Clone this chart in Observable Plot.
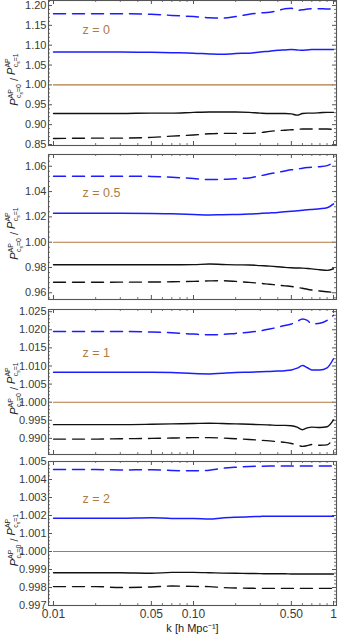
<!DOCTYPE html>
<html><head><meta charset="utf-8">
<script src="https://cdn.jsdelivr.net/npm/d3@7"></script>
<script src="https://cdn.jsdelivr.net/npm/@observablehq/plot@0.6"></script>
<style>
body{margin:0;background:#fff;}
#chart{position:relative;width:339px;height:636px;overflow:hidden;background:#fff;}
#chart svg{position:absolute;left:0;}
</style></head><body><div id="chart"></div>
<script>
// ---- data ----
const k = [0.01,0.02,0.03,0.05,0.07,0.1,0.13,0.16,0.2,0.25,0.3,0.35,0.4,0.45,0.5,0.55,0.6,0.65,0.7,0.8,0.9,1.0];

const z0_blueDash  = [1.179,1.179,1.179,1.178,1.175,1.172,1.169,1.168,1.172,1.178,1.181,1.183,1.187,1.192,1.193,1.188,1.189,1.191,1.192,1.192,1.191,1.192];
const z0_blueSolid = [1.083,1.083,1.083,1.082,1.081,1.080,1.078,1.077,1.079,1.080,1.083,1.085,1.087,1.088,1.089,1.088,1.087,1.088,1.089,1.089,1.089,1.089];
const z0_blackSolid= [0.928,0.928,0.928,0.929,0.929,0.931,0.932,0.932,0.932,0.931,0.929,0.928,0.928,0.928,0.927,0.924,0.928,0.929,0.929,0.930,0.931,0.931];
const z0_blackDash = [0.865,0.866,0.866,0.868,0.871,0.874,0.877,0.878,0.878,0.878,0.880,0.883,0.885,0.886,0.887,0.888,0.889,0.889,0.889,0.889,0.889,0.888];

const z05_blueDash  = [1.0521,1.0521,1.0521,1.0520,1.0513,1.0503,1.0495,1.0496,1.0502,1.0508,1.0525,1.0540,1.0552,1.0563,1.0572,1.0578,1.0585,1.0590,1.0593,1.0597,1.0605,1.0632];
const z05_blueSolid = [1.0228,1.0228,1.0228,1.0227,1.0224,1.0219,1.0215,1.0217,1.0219,1.0222,1.0227,1.0231,1.0235,1.0240,1.0244,1.0248,1.0252,1.0256,1.0259,1.0264,1.0272,1.0303];
const z05_blackSolid= [0.9822,0.9822,0.9822,0.9822,0.9822,0.9823,0.9827,0.9824,0.9821,0.9820,0.9815,0.9811,0.9806,0.9801,0.9798,0.9796,0.9795,0.9792,0.9789,0.9782,0.9777,0.9790];
const z05_blackDash = [0.9683,0.9683,0.9684,0.9685,0.9687,0.9690,0.9694,0.9695,0.9690,0.9682,0.9675,0.9667,0.9661,0.9655,0.9650,0.9643,0.9636,0.9628,0.9622,0.9614,0.9608,0.9603];

const z1_blueDash  = [1.0195,1.0195,1.0195,1.0194,1.0192,1.0188,1.0186,1.0187,1.0190,1.0193,1.0197,1.0202,1.0207,1.0212,1.0216,1.0223,1.0230,1.0226,1.0216,1.0218,1.0226,1.0240];
const z1_blueSolid = [1.0083,1.0083,1.0083,1.0083,1.0082,1.0079,1.0078,1.0080,1.0082,1.0083,1.0084,1.0085,1.0086,1.0087,1.0089,1.0094,1.0101,1.0095,1.0089,1.0089,1.0095,1.0120];
const z1_blackSolid= [0.9938,0.9938,0.9938,0.9939,0.9940,0.9941,0.9942,0.9941,0.9940,0.9939,0.9938,0.9937,0.9936,0.9936,0.9935,0.9931,0.9924,0.9929,0.9931,0.9930,0.9932,0.9951];
const z1_blackDash = [0.9898,0.9898,0.9899,0.9900,0.9901,0.9902,0.9902,0.9901,0.9899,0.9897,0.9895,0.9893,0.9891,0.9889,0.9886,0.9882,0.9878,0.9880,0.9883,0.9881,0.9882,0.9903];

const z2_blueDash  = [1.00455,1.00455,1.00453,1.00454,1.00450,1.00448,1.00452,1.00462,1.00468,1.00472,1.00474,1.00475,1.00475,1.00475,1.00475,1.00475,1.00475,1.00475,1.00475,1.00475,1.00475,1.00475];
const z2_blueSolid = [1.00185,1.00185,1.00185,1.00188,1.00183,1.00184,1.00180,1.00186,1.00190,1.00193,1.00195,1.00196,1.00196,1.00196,1.00196,1.00196,1.00196,1.00196,1.00196,1.00196,1.00196,1.00196];
const z2_blackSolid= [0.99882,0.99882,0.99882,0.99879,0.99884,0.99884,0.99882,0.99880,0.99879,0.99878,0.99877,0.99876,0.99876,0.99876,0.99875,0.99875,0.99875,0.99875,0.99875,0.99875,0.99875,0.99875];
const z2_blackDash = [0.99805,0.99805,0.99800,0.99803,0.99808,0.99806,0.99805,0.99800,0.99797,0.99796,0.99795,0.99795,0.99795,0.99795,0.99795,0.99795,0.99795,0.99795,0.99795,0.99795,0.99795,0.99795];

const zLabels = ["z = 0","z = 0.5","z = 1","z = 2"];
const yTicks = [
  [0.85,0.90,0.95,1.00,1.05,1.10,1.15,1.20],
  [0.96,0.98,1.00,1.02,1.04,1.06],
  [0.990,0.995,1.000,1.005,1.010,1.015,1.020,1.025],
  [0.997,0.998,0.999,1.000,1.001,1.002,1.003,1.004,1.005]
];
const xMajor = [0.01,0.05,0.1,0.5,1];
const xTickLabels = ["0.01","0.05","0.10","0.50","1"];
const xMinor = [0.02,0.03,0.04,0.06,0.07,0.08,0.09,0.2,0.3,0.4,0.6,0.7,0.8,0.9];
const xTitle = "k [h Mpc\u207B\u00B9]";
const refLevel = [1];

// ---- layout / style ----
const FONT = "'Liberation Sans', Arial, Helvetica, sans-serif";
const BLUE = "#1c1cff", BLACK = "#111", BROWN = "#b07a42", FRAME = "#555", TICKTXT = "#3a3a3a";
const DASH = "12,7";
const W = 339, ML = 48, MR = 3, PW = W - ML - MR;
const panels = [
  {series:[z0_blueDash,z0_blueSolid,z0_blackSolid,z0_blackDash], domain:[0.8475,1.2125], top:0, h:145, minor:0.01, fmt:".2f", ldy:29},
  {series:[z05_blueDash,z05_blueSolid,z05_blackSolid,z05_blackDash], domain:[0.9547,1.0693], top:154, h:145, minor:0.004, fmt:".2f", ldy:38},
  {series:[z1_blueDash,z1_blueSolid,z1_blackSolid,z1_blackDash], domain:[0.98555,1.0256], top:309, h:145, minor:0.001, fmt:".3f", ldy:43},
  {series:[z2_blueDash,z2_blueSolid,z2_blackSolid,z2_blackDash], domain:[0.997,1.005], top:461, h:144, minor:0.0002, fmt:".3f", ldy:37}
];
const styles = [
  {stroke:BLUE, dash:DASH, w:1.5},
  {stroke:BLUE, dash:null, w:1.5},
  {stroke:BLACK, dash:null, w:1.4},
  {stroke:BLACK, dash:DASH, w:1.4}
];

const chart = document.getElementById("chart");

panels.forEach((p, i) => {
  const last = i === panels.length - 1;
  const mt = 2, mb = last ? (636 - p.top - p.h) : 3;
  const [y0, y1] = p.domain;
  const major = yTicks[i];
  const minor = d3.range(Math.ceil(y0 / p.minor - 1e-6), Math.floor(y1 / p.minor + 1e-6) + 1)
    .map(j => +(j * p.minor).toFixed(6))
    .filter(v => !major.some(m => Math.abs(m - v) < p.minor / 10));

  const lineMarks = p.series.map((vals, s) =>
    Plot.line(k.map((kk, j) => ({k: kk, v: vals[j]})), {
      x: "k", y: "v", stroke: styles[s].stroke, strokeWidth: styles[s].w,
      strokeDasharray: styles[s].dash, curve: "monotone-x"
    })
  );

  const marks = [
    Plot.ruleY(major, {insetRight: PW - 4, stroke: FRAME}),
    Plot.ruleY(major, {insetLeft: PW - 4, stroke: FRAME}),
    Plot.ruleY(minor, {insetRight: PW - 2, stroke: FRAME, strokeWidth: 0.8}),
    Plot.ruleY(minor, {insetLeft: PW - 2, stroke: FRAME, strokeWidth: 0.8}),
    Plot.ruleX(xMajor, {insetTop: p.h - 4, stroke: FRAME}),
    Plot.ruleX(xMajor, {insetBottom: p.h - 4, stroke: FRAME}),
    Plot.ruleX(xMinor, {insetTop: p.h - 2, stroke: FRAME, strokeWidth: 0.8}),
    Plot.ruleX(xMinor, {insetBottom: p.h - 2, stroke: FRAME, strokeWidth: 0.8}),
    ...lineMarks,
    Plot.frame({stroke: FRAME, strokeWidth: 1.1}),
    Plot.axisY(major, {anchor: "left", tickSize: 0, tickPadding: 2, tickFormat: d3.format(p.fmt),
      fontSize: 11, color: TICKTXT, label: null}),
    Plot.text([zLabels[i]], {frameAnchor: "top-left", dx: 34, dy: p.ldy, text: d => d,
      textAnchor: "start", lineAnchor: "middle", fill: BROWN, fontSize: 12.5})
  ];
  if (last) {
    marks.push(Plot.text(xMajor, {x: d => d, frameAnchor: "bottom", dy: 9,
      text: d => xTickLabels[xMajor.indexOf(d)], lineAnchor: "middle", fill: TICKTXT, fontSize: 12}));
    marks.push(Plot.text([xTitle], {frameAnchor: "bottom", dy: 23, text: d => d,
      lineAnchor: "middle", fill: "#222", fontSize: 11}));
  }
  marks.push(Plot.ruleY(refLevel, {x1: k[0], x2: k[k.length - 1], stroke: BROWN, strokeWidth: 1.1}));

  const svg = Plot.plot({
    width: W, height: p.h + mt + mb,
    marginLeft: ML, marginRight: MR, marginTop: mt, marginBottom: mb,
    x: {type: "log", domain: [0.00921, 1.0505], axis: null},
    y: {domain: p.domain, axis: null},
    style: {fontFamily: FONT, background: "transparent", overflow: "visible"},
    marks
  });
  svg.style.top = (p.top - mt) + "px";
  chart.appendChild(svg);

  const cy = mt + p.h / 2 + 7;
  const t = d3.select(svg).append("text")
    .attr("transform", `translate(18,${cy}) rotate(-90)`)
    .attr("text-anchor", "middle").attr("font-family", FONT)
    .attr("font-size", 11).attr("fill", "#222");
  const part = (s, first) => {
    t.append("tspan").attr("font-style", "italic").attr("dy", first ? 0 : -3).text("P");
    t.append("tspan").attr("font-size", 7).attr("dy", -5).text("AP");
    t.append("tspan").attr("font-size", 7).attr("dx", -9).attr("dy", 8).text("c");
    t.append("tspan").attr("font-size", 5).attr("dy", 1.5).text("s");
    t.append("tspan").attr("font-size", 7).attr("dy", -1.5).text("=" + s);
  };
  part("0", true);
  t.append("tspan").attr("dy", -3).text(" / ");
  part("1", false);
});
</script>
</body></html>
